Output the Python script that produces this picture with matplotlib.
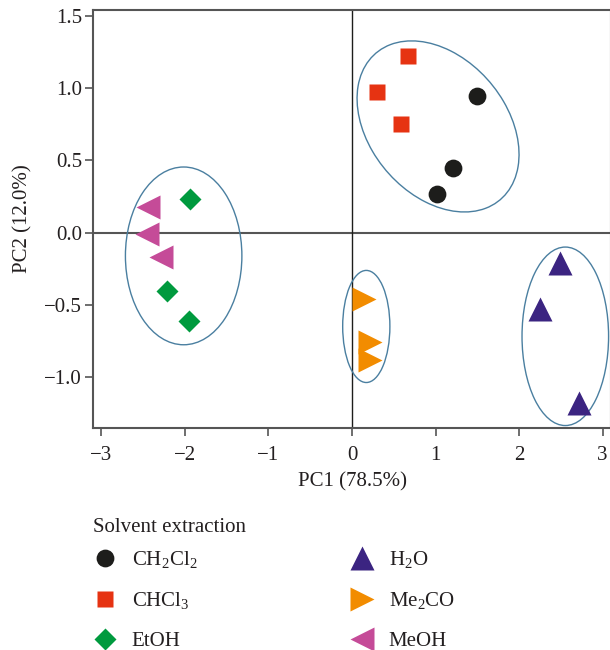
import matplotlib
matplotlib.use("Agg")
import matplotlib.pyplot as plt
from matplotlib.patches import Ellipse

plt.rcParams['font.family'] = ['Liberation Serif', 'DejaVu Serif']
plt.rcParams['mathtext.fontset'] = 'custom'
plt.rcParams['mathtext.rm'] = 'Liberation Serif'

# PCA scores
groups = ['CH2Cl2', 'CHCl3', 'EtOH', 'H2O', 'Me2CO', 'MeOH']
labels = [r'CH$_\mathregular{2}$Cl$_\mathregular{2}$', r'CHCl$_\mathregular{3}$', 'EtOH',
          r'H$_\mathregular{2}$O', r'Me$_\mathregular{2}$CO', 'MeOH']
pc1 = {
    'CH2Cl2': [1.50, 1.21, 1.02],
    'CHCl3': [0.67, 0.30, 0.585],
    'EtOH': [-1.94, -2.21, -1.95],
    'H2O': [2.49, 2.25, 2.72],
    'Me2CO': [0.14, 0.21, 0.21],
    'MeOH': [-2.44, -2.45, -2.29],
}
pc2 = {
    'CH2Cl2': [0.947, 0.45, 0.27],
    'CHCl3': [1.22, 0.975, 0.754],
    'EtOH': [0.235, -0.40, -0.61],
    'H2O': [-0.206, -0.524, -1.18],
    'Me2CO': [-0.456, -0.755, -0.88],
    'MeOH': [0.18, -0.01, -0.165],
}

markers = {'CH2Cl2': 'o', 'CHCl3': 's', 'EtOH': 'D', 'H2O': '^', 'Me2CO': '>', 'MeOH': '<'}
sizes = {'CH2Cl2': 12.8, 'CHCl3': 11.5, 'EtOH': 11.7, 'H2O': 17.5, 'Me2CO': 17.5, 'MeOH': 17.5}
colors = {'CH2Cl2': '#1d1d1b', 'CHCl3': '#e63312', 'EtOH': '#009a3e',
          'H2O': '#3b2481', 'Me2CO': '#f28c00', 'MeOH': '#c54b98'}

# cluster ellipses: (centre x, centre y, width, height, angle)
clusters = [
    (1.03, 0.735, 1.994, 1.087, -16.2),
    (-2.015, -0.16, 1.394, 1.229, 0),
    (0.171, -0.648, 0.565, 0.775, 0),
    (2.553, -0.716, 1.036, 1.234, 0),
]

fs = 15
txt = '#231f20'

fig = plt.figure(figsize=(6.1, 6.5), dpi=100)
ax = fig.add_axes([93 / 610, 222 / 650, 518 / 610, 418 / 650])

ax.axhline(0, color='#555555', lw=1.5, zorder=1)
ax.axvline(0, color='#1d1d1b', lw=1.0, zorder=1)

for cx, cy, w, h, ang in clusters:
    ax.add_patch(Ellipse((cx, cy), w, h, angle=ang, fill=False,
                         edgecolor='#4a7fa0', lw=1.0, zorder=2))

handles = []
for g, lab in zip(groups, labels):
    h, = ax.plot(pc1[g], pc2[g], ls='none', marker=markers[g], ms=sizes[g],
                 color=colors[g], mec='none', label=lab, zorder=3)
    handles.append(h)

ax.set_xlim(-3.1, 3.1)
ax.set_ylim(-1.35, 1.54)
ax.set_xticks([-3, -2, -1, 0, 1, 2, 3])
ax.set_xticklabels(['\u22123', '\u22122', '\u22121', '0', '1', '2', '3'])
ax.set_yticks([-1.0, -0.5, 0.0, 0.5, 1.0, 1.5])
ax.set_yticklabels(['\u22121.0', '\u22120.5', '0.0', '0.5', '1.0', '1.5'])
ax.tick_params(direction='out', length=6, width=1.2, color='#555555',
               labelsize=fs, labelcolor=txt)
ax.tick_params(axis='x', pad=7)
ax.tick_params(axis='y', pad=2)
for s in ax.spines.values():
    s.set_color('#555555')
    s.set_linewidth(1.5)

ax.set_xlabel('PC1 (78.5%)', fontsize=fs, color=txt, labelpad=5)
ax.set_ylabel('PC2 (12.0%)', fontsize=fs, color=txt, labelpad=8)

# legend title as its own text, entries in two columns below it
fig.text(93 / 610, 1 - 527 / 650, 'Solvent extraction', fontsize=fs, color=txt,
         ha='left', va='center')
leg = fig.legend(handles=handles, ncol=2, frameon=False,
                 loc='upper left', bbox_to_anchor=(92 / 610, 1 - 549 / 650),
                 fontsize=fs, handlelength=1.2, handletextpad=0.7, labelspacing=0.95,
                 columnspacing=7.3, borderaxespad=0, borderpad=0)
for t in leg.get_texts():
    t.set_color(txt)

fig.savefig('out.png', dpi=100)
